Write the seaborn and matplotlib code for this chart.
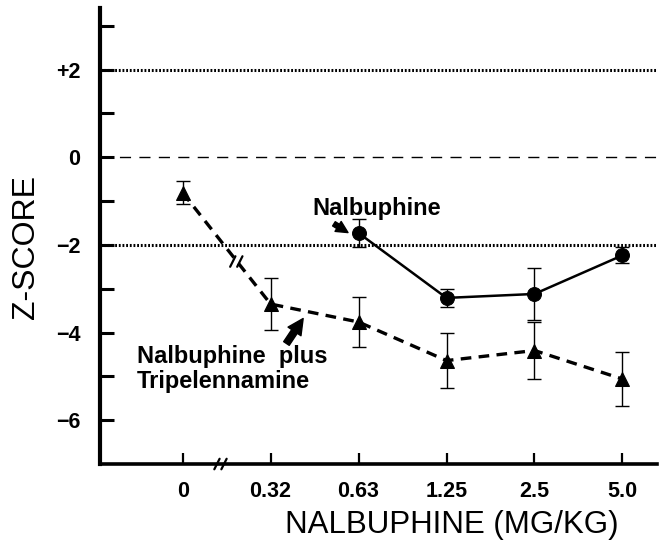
import numpy as np
import pandas as pd
import matplotlib
matplotlib.use("Agg")
import matplotlib.pyplot as plt
import seaborn as sns

sns.set_theme(style="white")
plt.rcParams['font.family'] = ['Liberation Sans', 'DejaVu Sans']
for k in ["text.color", "axes.labelcolor", "xtick.color", "ytick.color"]:
    plt.rcParams[k] = "black"

doses = ["0", "0.32", "0.63", "1.25", "2.5", "5.0"]

# nalbuphine alone (circles, solid) - tested from 0.63 upward
nal_dose = ["0.63", "1.25", "2.5", "5.0"]
nal_z = [-1.73, -3.21, -3.12, -2.24]
nal_sem = [0.33, 0.20, 0.60, 0.18]

# nalbuphine plus tripelennamine (triangles, dashed)
combo_dose = ["0", "0.32", "0.63", "1.25", "2.5", "5.0"]
combo_z = [-0.81, -3.35, -3.76, -4.64, -4.41, -5.06]
combo_sem = [0.26, 0.59, 0.56, 0.63, 0.65, 0.62]

pos = {d: i for i, d in enumerate(doses)}
nal = pd.DataFrame({"x": [pos[d] for d in nal_dose], "z": nal_z, "sem": nal_sem})
combo = pd.DataFrame({"x": [pos[d] for d in combo_dose], "z": combo_z, "sem": combo_sem})

fig = plt.figure(figsize=(6.6, 5.44), dpi=100)
ax = fig.add_axes([0.1515, 0.147, 0.8435, 0.838])

# reference lines
ax.axhline(2, color="black", lw=2.2, ls=(0, (0.6, 0.6)), zorder=1)
ax.axhline(-2, color="black", lw=2.2, ls=(0, (0.6, 0.6)), zorder=1)
ax.axhline(0, color="black", lw=1.0, ls=(0, (8, 6)), zorder=1)

# error bars
ax.errorbar(combo["x"], combo["z"], yerr=combo["sem"], fmt="none", ecolor="black",
            elinewidth=1.0, capsize=5, capthick=1.0, zorder=2)
ax.errorbar(nal["x"], nal["z"], yerr=nal["sem"], fmt="none", ecolor="black",
            elinewidth=1.0, capsize=5, capthick=1.0, zorder=2)

sns.lineplot(data=combo, x="x", y="z", ax=ax, color="black", lw=2.4,
             marker="^", markersize=10, markeredgecolor="black", zorder=3)
ax.lines[-1].set_dashes([3.2, 2.2])
sns.lineplot(data=nal, x="x", y="z", ax=ax, color="black", lw=1.8,
             marker="o", markersize=10, markeredgecolor="black", zorder=3)

ax.set_xlim(-0.94, 5.39)
ax.set_ylim(-7, 3.4)

ax.set_xticks(range(len(doses)))
ax.set_xticklabels(doses, fontsize=15.5, fontweight="bold")
ax.set_yticks(np.arange(-6, 4, 1))
ylab = {-6: "\u22126", -4: "\u22124", -2: "\u22122", 0: "0", 2: "+2"}
ax.set_yticklabels([ylab.get(int(v), "") for v in np.arange(-6, 4, 1)],
                   fontsize=15.5, fontweight="bold")
ax.tick_params(axis="y", direction="in", length=10, width=2.2, pad=14, left=True)
ax.tick_params(axis="x", direction="in", length=8, width=1.6, pad=12, bottom=True)

for s in ["top", "right"]:
    ax.spines[s].set_visible(False)
ax.spines["left"].set_linewidth(3)
ax.spines["bottom"].set_linewidth(2.6)
for s in ["left", "bottom"]:
    ax.spines[s].set_color("black")

ax.set_xlabel("NALBUPHINE (MG/KG)", fontsize=22.5)
ax.xaxis.set_label_coords(0.632, -0.1)
ax.set_ylabel("Z-SCORE", fontsize=23)
ax.yaxis.set_label_coords(-0.106, 0.476)

# axis break marks
for dx in (-0.04, 0.04):
    ax.plot([0.40 + dx, 0.46 + dx], [-7.12, -6.88], color="black", lw=1.6, clip_on=False, zorder=5)
    ax.plot([0.58 + dx, 0.64 + dx], [-2.5, -2.26], color="black", lw=1.6, clip_on=False, zorder=5)

# annotations
ax.text(1.48, -1.17, "Nalbuphine", fontsize=17, fontweight="bold", ha="left", va="center")
ax.annotate("", xy=(1.88, -1.72), xytext=(1.72, -1.52),
            arrowprops=dict(arrowstyle="simple,head_length=0.7,head_width=0.7,tail_width=0.3",
                            color="black", mutation_scale=12, shrinkA=0, shrinkB=0))
ax.text(-0.52, -4.83, "Nalbuphine  plus\nTripelennamine", fontsize=17, fontweight="bold",
        ha="left", va="center", linespacing=1.15)
ax.annotate("", xy=(1.37, -3.68), xytext=(1.18, -4.25),
            arrowprops=dict(arrowstyle="simple,head_length=0.7,head_width=0.7,tail_width=0.3",
                            color="black", mutation_scale=16, shrinkA=0, shrinkB=0))

ax.grid(False)
fig.savefig("out.png", dpi=100)
